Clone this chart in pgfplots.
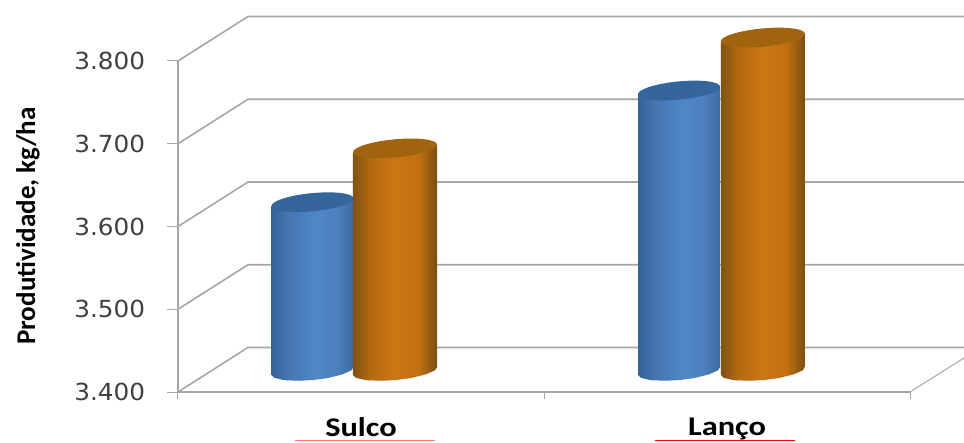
\documentclass[border=0pt]{standalone}
\usepackage{pgfplots}
\usepackage{pgfplotstable}
\usepackage{fontspec}
\pgfplotsset{compat=1.18}
\setmainfont{DejaVu Sans}
\newfontfamily\labelfont{Carlito}
\definecolor{wallgray}{HTML}{A6A6A6}
\definecolor{tickgray}{HTML}{404040}
\definecolor{blueTop}{HTML}{34659B}
\definecolor{orangeTop}{HTML}{A0640F}
% Horizontal gradients that give the cylinders their round look
\pgfdeclarehorizontalshading{cylBlue}{100bp}{
  rgb(0bp)=(0.20,0.39,0.60);
  rgb(25bp)=(0.20,0.39,0.60);
  rgb(35bp)=(0.27,0.46,0.69);
  rgb(52bp)=(0.31,0.53,0.78);
  rgb(65bp)=(0.30,0.50,0.74);
  rgb(75bp)=(0.24,0.42,0.62);
  rgb(100bp)=(0.24,0.42,0.62)}
\pgfdeclarehorizontalshading{cylOrange}{100bp}{
  rgb(0bp)=(0.50,0.32,0.08);
  rgb(25bp)=(0.50,0.32,0.08);
  rgb(35bp)=(0.70,0.41,0.06);
  rgb(50bp)=(0.80,0.46,0.08);
  rgb(64bp)=(0.76,0.44,0.07);
  rgb(75bp)=(0.48,0.30,0.07);
  rgb(100bp)=(0.48,0.30,0.07)}
% Tilted top faces of the cylinders
\pgfdeclareplotmark{cylCapBlue}{%
  \pgfpathellipse{\pgfpointorigin}{\pgfqpoint{41pt}{4pt}}{\pgfqpoint{-1pt}{9pt}}%
  \pgfsetfillcolor{blueTop}\pgfusepathqfill}
\pgfdeclareplotmark{cylCapOrange}{%
  \pgfpathellipse{\pgfpointorigin}{\pgfqpoint{42pt}{4pt}}{\pgfqpoint{-1pt}{9pt}}%
  \pgfsetfillcolor{orangeTop}\pgfusepathqfill}
% Side outline of a cylinder: dx in half widths, dy in value units,
% top = 1 for the points that rise with the value of the column
\pgfplotstableread{
dx      dy     top
-1.000  -4.8   0
-0.932  -8.2   0
-0.690  -11.1  0
-0.320  -11.8  0
 0.024  -10.9  0
 0.366  -8.6   0
 0.724  -4.2   0
 0.949   0.8   0
 1.000   4.8   0
 1.000   4.8   1
-1.000  -4.8   1
}\cylinderoutline
% #1 centre, #2 half width, #3 value, #4 shading
\newcommand{\cylinderbody}[4]{%
  \addplot[draw=none, shade, shading=#4, yshift=21pt, forget plot]
    table[x expr={#1+#2*\thisrow{dx}}, y expr={3400+\thisrow{top}*(#3-3400)+\thisrow{dy}}]
    {\cylinderoutline} --cycle;}
\begin{document}
\begin{tikzpicture}
\begin{axis}[
  scale only axis, width=732pt, height=331pt,
  xmin=0, xmax=2, ymin=3400, ymax=3800,
  clip=false,
  axis x line=bottom, axis y line=left,
  axis line style={wallgray, line width=1.6pt, -},
  xtick={0,1,2}, xticklabels={Sulco,Lanço},
  x tick label as interval,
  ytick={3400,3500,3600,3700,3800},
  tick align=outside,
  tick style={wallgray, line width=1pt},
  y tick style={/pgfplots/major tick length=11pt},
  x tick style={/pgfplots/major tick length=7pt},
  /pgf/number format/assume math mode=true,
  /pgf/number format/1000 sep={.},
  yticklabel style={font=\fontsize{23.5}{24}\selectfont, text=tickgray, xshift=-25pt, xscale=1.05},
  xticklabel style={font=\labelfont\bfseries\fontsize{27}{27}\selectfont, text=black, yshift=-18pt, xscale=1.2},
  ylabel={Produtividade, kg/ha},
  ylabel style={font=\labelfont\bfseries\fontsize{27}{27}\selectfont, text=black,
    at={(axis description cs:-0.2049,0.5015)}, anchor=center},
]
% Side wall, back wall and floor
\pgfplotsinvokeforeach{3400,3500,3600,3700,3800}{
  \draw[wallgray, line width=1.6pt] (axis cs:0,#1) -- ++(70pt,44.5pt) -- ++(716pt,0pt);
}
\draw[wallgray, line width=1pt] (axis cs:2,3400) -- ++(54pt,34pt);

% Blue series
\cylinderbody{0.3675}{0.112}{3604}{cylBlue}
\cylinderbody{1.369}{0.112}{3739}{cylBlue}
\addplot[only marks, mark=cylCapBlue, yshift=21pt, forget plot] coordinates {(0.3675,3604) (1.369,3739)};

% Orange series
\cylinderbody{0.593}{0.115}{3669}{cylOrange}
\cylinderbody{1.598}{0.115}{3803}{cylOrange}
\addplot[only marks, mark=cylCapOrange, yshift=21pt, forget plot] coordinates {(0.593,3669) (1.598,3803)};

% Rules under the category names
\draw[red!55!white, line width=1pt] (axis cs:0,3400) ++(117pt,-48.5pt) -- ++(140pt,0pt);
\draw[red, line width=1.6pt] (axis cs:0,3400) ++(477pt,-48.5pt) -- ++(140pt,0pt);
\end{axis}
\pgfresetboundingbox
\path (-178pt,-50pt) rectangle (786pt,392pt);
\end{tikzpicture}
\end{document}
